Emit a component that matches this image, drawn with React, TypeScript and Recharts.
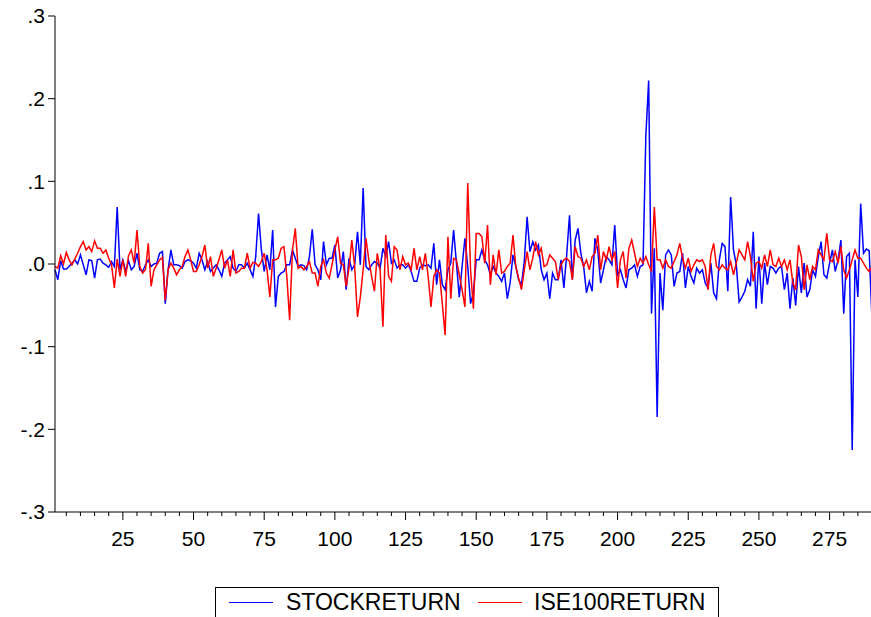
import { LineChart, Line, XAxis, YAxis } from 'recharts'

const stockReturn = [
  -0.007, -0.019, 0.004, -0.006, -0.006, -0.003, 0.001, 0.005, 0.0, 0.011,
  -0.001, -0.013, 0.005, 0.004, -0.017, 0.005, 0.006, 0.001, -0.001, -0.004,
  0.003, -0.003, 0.069, -0.007, 0.005, -0.009, 0.004, -0.007, -0.003, 0.013,
  -0.007, -0.009, -0.001, 0.005, -0.003, 0.0, 0.001, 0.013, 0.015, -0.048,
  -0.007, 0.017, -0.001, -0.001, -0.002, -0.005, 0.003, 0.005, 0.004, 0.001,
  -0.005, 0.013, 0.005, -0.007, 0.003, -0.009, -0.005, -0.001, -0.007, -0.015,
  0.001, 0.005, 0.009, -0.005, -0.009, -0.001, -0.001, -0.005, 0.001, -0.007,
  -0.015, 0.009, 0.061, 0.017, -0.009, 0.011, -0.007, 0.041, -0.052, -0.015,
  -0.011, -0.009, -0.001, -0.001, 0.017, 0.007, -0.003, -0.001, -0.002, -0.007,
  0.009, 0.042, -0.001, -0.007, -0.019, 0.027, -0.001, 0.007, 0.007, 0.023,
  -0.017, -0.007, 0.015, -0.031, 0.007, -0.007, -0.001, 0.039, -0.001, 0.092,
  -0.003, -0.007, -0.001, 0.003, 0.001, -0.005, 0.019, 0.009, 0.027, 0.001,
  0.005, -0.005, -0.001, -0.001, -0.005, -0.001, -0.009, -0.021, -0.021, -0.005,
  -0.001, -0.002, -0.001, -0.005, 0.025, -0.025, 0.005, -0.025, -0.031, -0.007,
  0.001, 0.041, 0.001, -0.04, -0.003, 0.031, -0.003, -0.048, -0.035, 0.005,
  0.005, 0.017, 0.005, -0.001, -0.013, -0.003, -0.011, -0.015, -0.021, -0.011,
  -0.042, -0.023, 0.011, -0.003, -0.019, -0.025, 0.003, 0.057, 0.015, 0.027,
  0.017, 0.023, -0.007, -0.019, -0.011, -0.042, -0.011, -0.019, -0.019, 0.005,
  -0.029, 0.011, 0.059, -0.019, 0.029, 0.043, 0.013, -0.003, -0.035, -0.021,
  -0.033, 0.031, 0.017, -0.023, -0.007, 0.009, 0.005, -0.001, 0.047, -0.013,
  -0.007, -0.019, -0.029, -0.007, -0.005, -0.001, -0.015, -0.003, -0.001, 0.155,
  0.222, -0.06, 0.019, -0.185, -0.011, -0.056, 0.011, 0.017, 0.011, -0.027,
  -0.011, -0.009, 0.013, -0.029, -0.003, -0.015, -0.023, -0.005, -0.011, -0.007,
  -0.023, -0.029, 0.001, -0.035, -0.042, 0.005, 0.025, 0.021, -0.033, 0.081,
  0.017, -0.001, -0.046, -0.04, -0.033, -0.019, -0.027, 0.039, -0.054, 0.009,
  -0.048, 0.001, -0.025, -0.003, -0.005, -0.011, -0.005, -0.003, -0.031, -0.011,
  -0.054, -0.017, -0.05, -0.003, -0.035, 0.001, -0.04, -0.031, -0.007, -0.015,
  0.009, 0.027, -0.013, -0.017, 0.001, 0.017, -0.009, 0.005, 0.029, -0.06,
  0.009, 0.013, -0.225, 0.005, -0.04, 0.073, 0.013, 0.018, 0.016, -0.066,
]

const ise100Return = [
  -0.003, -0.005, 0.01, 0.0, 0.014, 0.005, -0.001, 0.006, 0.013, 0.021,
  0.027, 0.017, 0.021, 0.015, 0.028, 0.019, 0.019, 0.013, 0.017, 0.007,
  -0.001, -0.029, 0.006, -0.015, 0.005, -0.015, 0.01, 0.017, 0.001, 0.041,
  -0.003, -0.011, -0.007, 0.025, -0.027, -0.007, -0.001, 0.005, 0.008, -0.044,
  -0.007, 0.001, -0.005, -0.013, -0.007, -0.003, 0.009, 0.017, 0.005, -0.009,
  -0.009, -0.001, 0.009, 0.023, -0.005, 0.009, -0.015, -0.005, 0.005, 0.017,
  -0.005, 0.005, -0.015, 0.017, -0.011, -0.009, -0.005, -0.005, 0.013, -0.005,
  0.002, 0.001, -0.003, 0.003, 0.013, -0.007, -0.04, 0.005, 0.005, 0.007,
  0.019, 0.021, -0.015, -0.068, 0.017, 0.043, -0.005, -0.003, -0.007, -0.003,
  0.003, -0.011, -0.011, -0.027, -0.003, 0.005, -0.011, -0.017, -0.001, 0.017,
  0.033, 0.001, -0.001, -0.027, -0.005, 0.029, -0.003, -0.064, -0.04, -0.007,
  0.031, 0.005, -0.015, -0.033, 0.013, -0.007, -0.076, 0.035, -0.015, -0.021,
  0.021, 0.017, -0.007, 0.009, -0.001, 0.001, -0.007, 0.019, -0.007, 0.009,
  -0.007, 0.013, -0.015, -0.052, -0.015, -0.007, -0.011, -0.048, -0.086, 0.033,
  -0.042, 0.007, 0.005, -0.013, -0.031, -0.052, 0.098, -0.007, -0.054, 0.037,
  0.037, 0.033, 0.001, 0.047, -0.025, 0.011, -0.013, 0.017, -0.011, -0.009,
  -0.003, 0.001, 0.035, -0.003, -0.017, -0.031, -0.007, 0.015, -0.007, 0.007,
  0.027, 0.011, 0.019, -0.003, -0.001, 0.011, 0.007, 0.003, -0.019, -0.001,
  0.005, 0.007, 0.003, -0.019, 0.021, 0.009, 0.007, -0.003, 0.005, -0.007,
  0.009, 0.013, 0.035, -0.007, 0.015, 0.005, 0.021, 0.005, 0.015, -0.029,
  0.005, 0.015, -0.017, 0.019, 0.029, 0.013, -0.003, 0.007, 0.001, 0.009,
  -0.001, -0.009, 0.069, 0.005, 0.005, -0.005, 0.005, -0.003, -0.005, 0.003,
  0.011, 0.025, 0.007, -0.005, 0.007, -0.009, -0.001, 0.005, 0.003, 0.005,
  -0.003, -0.031, 0.011, 0.025, -0.003, -0.007, -0.001, -0.005, -0.007, 0.003,
  -0.013, 0.001, 0.017, 0.011, 0.005, 0.027, 0.009, -0.021, 0.001, 0.003,
  -0.005, 0.011, -0.003, 0.017, -0.001, -0.003, 0.007, -0.003, 0.005, -0.007,
  0.005, -0.023, -0.031, 0.023, 0.009, -0.031, -0.001, -0.019, -0.003, -0.007,
  0.017, 0.011, 0.005, 0.037, 0.005, 0.003, 0.015, 0.001, 0.021, -0.007,
  -0.017, -0.007, 0.005, 0.017, 0.007, 0.007, 0.001, -0.005, -0.009, -0.003,
]

const yTicks = [-0.3, -0.2, -0.1, 0, 0.1, 0.2, 0.3]
const yLabels = ['-.3', '-.2', '-.1', '.0', '.1', '.2', '.3']
// minor tick every 5 obs, labelled every 25
const xTicks = Array.from({ length: 58 }, (_, i) => (i + 1) * 5)

const data = stockReturn.map((v, i) => ({
  obs: i + 1,
  stock: v,
  ise: ise100Return[i],
}))

const FONT = '"Liberation Sans", Arial, sans-serif'

function XTick(props: any) {
  const { x, y, payload } = props
  const major = payload.value % 25 === 0
  return (
    <g>
      <line x1={x} y1={y} x2={x} y2={y + (major ? 8 : 4)} stroke="#000" />
      {major && (
        <text x={x} y={y + 34} textAnchor="middle" fontSize={21} fill="#000" fontFamily={FONT}>
          {payload.value}
        </text>
      )}
    </g>
  )
}

export default function App() {
  return (
    <div
      style={{
        position: 'absolute',
        left: 0,
        top: 0,
        width: 871,
        height: 617,
        overflow: 'hidden',
        background: '#fff',
        fontFamily: FONT,
      }}
    >
      <LineChart
        width={880}
        height={560}
        data={data}
        margin={{ top: 16, right: 8, left: 0, bottom: 8 }}
      >
        <XAxis
          dataKey="obs"
          type="number"
          domain={[1, 290]}
          ticks={xTicks}
          interval={0}
          tickSize={0}
          tickMargin={0}
          tick={<XTick />}
          height={40}
          axisLine={{ stroke: '#000' }}
          tickLine={false}
        />
        <XAxis
          xAxisId="top"
          orientation="top"
          dataKey="obs"
          type="number"
          domain={[1, 290]}
          height={0}
          tick={false}
          tickLine={false}
          axisLine={{ stroke: '#000' }}
        />
        <YAxis
          type="number"
          domain={[-0.3, 0.3]}
          ticks={yTicks}
          interval={0}
          width={55}
          tickSize={7}
          tickMargin={3}
          tickFormatter={(v: number) => yLabels[yTicks.findIndex((t) => Math.abs(t - v) < 1e-9)]}
          tick={{ fill: '#000', fontSize: 21, fontFamily: FONT }}
          tickLine={{ stroke: '#000' }}
          axisLine={{ stroke: '#000' }}
        />
        <Line
          type="linear"
          dataKey="stock"
          stroke="#0000ff"
          strokeWidth={1.5}
          dot={false}
          isAnimationActive={false}
        />
        <Line
          type="linear"
          dataKey="ise"
          stroke="#ff0000"
          strokeWidth={1.5}
          dot={false}
          isAnimationActive={false}
        />
      </LineChart>
      <div
        style={{
          position: 'absolute',
          left: 215,
          top: 587,
          width: 502,
          height: 40,
          border: '1px solid #000',
          fontSize: 23,
          lineHeight: '23px',
          color: '#000',
        }}
      >
        <div style={{ position: 'absolute', left: 13, top: 14, width: 44, height: 0, borderTop: '1.5px solid #0000ff' }} />
        <div style={{ position: 'absolute', left: 70, top: 3 }}>STOCKRETURN</div>
        <div style={{ position: 'absolute', left: 262, top: 14, width: 44, height: 0, borderTop: '1.5px solid #ff0000' }} />
        <div style={{ position: 'absolute', left: 318, top: 3 }}>ISE100RETURN</div>
      </div>
    </div>
  )
}
